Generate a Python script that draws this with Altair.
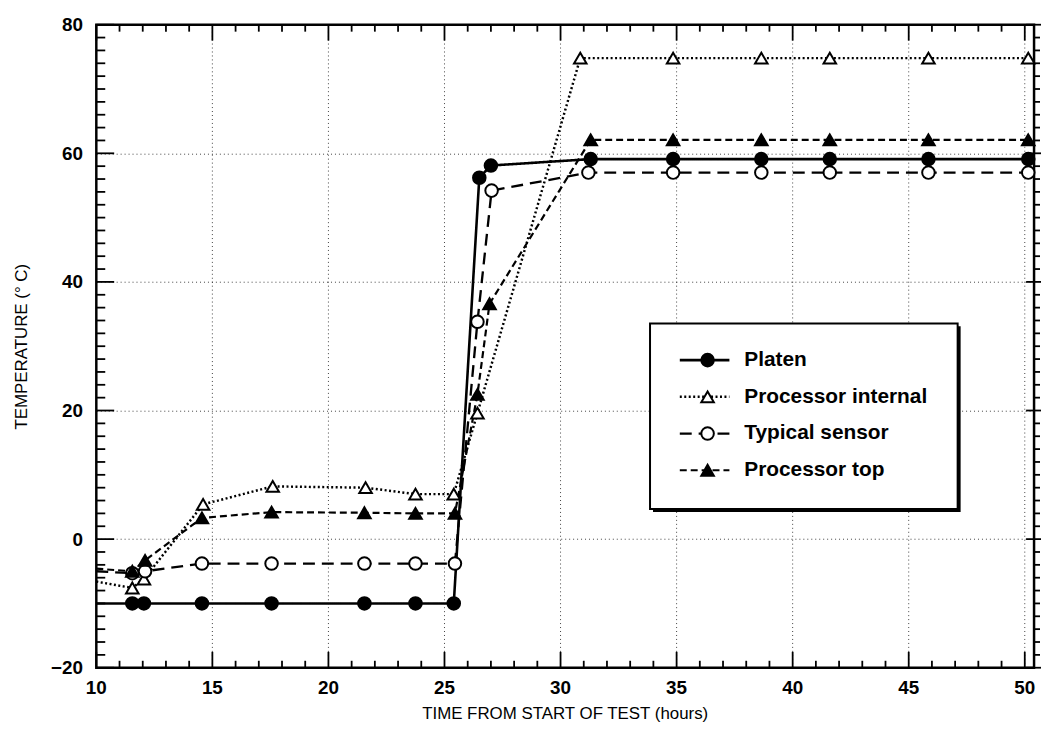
import altair as alt
import pandas as pd

SERIES = ["Platen", "Processor internal", "Typical sensor", "Processor top"]

PLATEN_TIME = [10.0, 11.55, 12.05, 14.55, 17.55, 21.55, 23.75, 25.4, 26.5, 27.0, 31.3, 34.85, 38.65, 41.6, 45.85, 50.15]
PLATEN_TEMP = [-10, -10, -10, -10, -10, -10, -10, -10, 56.2, 58.1, 59.1, 59.1, 59.1, 59.1, 59.1, 59.1]

INTERNAL_TIME = [10.0, 11.55, 12.05, 14.6, 17.6, 21.6, 23.75, 25.4, 26.42, 30.85, 34.85, 38.65, 41.6, 45.85, 50.15]
INTERNAL_TEMP = [-6.6, -7.6, -6.2, 5.4, 8.2, 8.0, 7.0, 7.0, 19.6, 74.8, 74.8, 74.8, 74.8, 74.8, 74.8]

SENSOR_TIME = [10.0, 11.55, 12.1, 14.55, 17.55, 21.55, 23.75, 25.45, 26.42, 27.03, 31.2, 34.85, 38.65, 41.6, 45.85, 50.15]
SENSOR_TEMP = [-5.0, -5.3, -5.0, -3.8, -3.8, -3.8, -3.8, -3.8, 33.8, 54.2, 57.0, 57.0, 57.0, 57.0, 57.0, 57.0]

TOP_TIME = [10.0, 11.55, 12.1, 14.55, 17.55, 21.55, 23.75, 25.45, 26.42, 26.94, 31.3, 34.85, 38.65, 41.6, 45.85, 50.15]
TOP_TEMP = [-4.6, -5.0, -3.3, 3.3, 4.2, 4.1, 4.0, 4.0, 22.5, 36.6, 62.1, 62.1, 62.1, 62.1, 62.1, 62.1]

X_LABELS = [10, 15, 20, 25, 30, 35, 40, 45, 50]
Y_LABELS = [-20, 0, 20, 40, 60, 80]
X_TICKS = list(range(10, 51))
Y_TICKS = list(range(-20, 81, 2))
X_TITLE = "TIME FROM START OF TEST (hours)"
Y_TITLE = "TEMPERATURE (° C)"

X_DOMAIN = [10, 50.4]
Y_DOMAIN = [-20, 80]
W, H = 945, 648
FONT = "Liberation Sans"

rows = []
for name, ts, vs in [
    ("Platen", PLATEN_TIME, PLATEN_TEMP),
    ("Processor internal", INTERNAL_TIME, INTERNAL_TEMP),
    ("Typical sensor", SENSOR_TIME, SENSOR_TEMP),
    ("Processor top", TOP_TIME, TOP_TEMP),
]:
    for i, (t, v) in enumerate(zip(ts, vs)):
        rows.append({"series": name, "time": t, "temp": v, "order": i, "marker": i > 0})
df = pd.DataFrame(rows)
leg = pd.DataFrame({"series": SERIES})
one = pd.DataFrame({"a": [0]})

px_x = W / (X_DOMAIN[1] - X_DOMAIN[0])
px_y = H / (Y_DOMAIN[1] - Y_DOMAIN[0])

# tick segments (inward on bottom/top/left, outward on right); lengths in pixels
segs = []
for t in X_TICKS:
    ln = (16 if t % 5 == 0 else 7) / px_y
    segs.append({"x": t, "x2": t, "y": Y_DOMAIN[0], "y2": Y_DOMAIN[0] + ln})
    segs.append({"x": t, "x2": t, "y": Y_DOMAIN[1], "y2": Y_DOMAIN[1] - ln})
for t in Y_TICKS:
    major = t % 20 == 0
    ln = (18 if major else 9) / px_x
    segs.append({"x": X_DOMAIN[0], "x2": X_DOMAIN[0] + ln, "y": t, "y2": t})
    if major:
        segs.append({"x": X_DOMAIN[1] - 8 / px_x, "x2": X_DOMAIN[1] + 7 / px_x, "y": t, "y2": t})
    else:
        segs.append({"x": X_DOMAIN[1], "x2": X_DOMAIN[1] + 6 / px_x, "y": t, "y2": t})
ticks_df = pd.DataFrame(segs)

# vertical grid lines
grid_df = pd.DataFrame({"x": X_LABELS[1:], "x2": X_LABELS[1:],
                        "y": [Y_DOMAIN[0]] * (len(X_LABELS) - 1),
                        "y2": [Y_DOMAIN[1]] * (len(X_LABELS) - 1)})

# x tick labels and title, placed below the frame (offsets in pixels)
xlab_df = pd.DataFrame({"x": X_LABELS, "lab": [str(v) for v in X_LABELS],
                        "y": [Y_DOMAIN[0] - 20 / px_y] * len(X_LABELS)})
xtitle_df = pd.DataFrame({"x": [(X_DOMAIN[0] + X_DOMAIN[1]) / 2], "lab": [X_TITLE],
                          "y": [Y_DOMAIN[0] - 47 / px_y]})

xscale = alt.Scale(domain=X_DOMAIN, nice=False, zero=False)
yscale = alt.Scale(domain=Y_DOMAIN, nice=False, zero=False)
dash_scale = alt.Scale(domain=SERIES, range=[[1, 0], [2, 2.5], [12, 7], [7, 4]])
width_scale = alt.Scale(domain=SERIES, range=[2.6, 2.2, 2.6, 2.6])
shape_scale = alt.Scale(domain=SERIES, range=["circle", "triangle-up", "circle", "triangle-up"])
fill_scale = alt.Scale(domain=SERIES, range=["black", "white", "white", "black"])

y_enc = alt.Y("temp:Q", scale=yscale, axis=alt.Axis(
    values=Y_LABELS, title=Y_TITLE, grid=True, ticks=False,
    domain=False, labelFont=FONT, labelFontSize=19, labelFontWeight="bold", labelColor="black",
    labelPadding=14, titleFont=FONT, titleFontSize=17, titleFontWeight="normal",
    titleColor="black", titlePadding=20, gridDash=[1, 3], gridColor="black",
    gridOpacity=0.75, gridWidth=1, format="d"))

grid = alt.Chart(grid_df).mark_rule(color="black", strokeWidth=1, strokeDash=[1, 3], opacity=0.75).encode(
    x=alt.X("x:Q", scale=xscale, axis=None),
    x2="x2:Q",
    y=alt.Y("y:Q", scale=yscale, axis=None),
    y2="y2:Q",
)

lines = alt.Chart(df).mark_line(color="black").encode(
    x=alt.X("time:Q", scale=xscale, axis=None),
    y=y_enc,
    strokeDash=alt.StrokeDash("series:N", scale=dash_scale, legend=None),
    strokeWidth=alt.StrokeWidth("series:N", scale=width_scale, legend=None),
    order="order:Q",
)

points = alt.Chart(df).transform_filter("datum.marker").mark_point(
    filled=True, stroke="black", strokeWidth=2, size=160, opacity=1
).encode(
    x=alt.X("time:Q", scale=xscale, axis=None),
    y=alt.Y("temp:Q", scale=yscale, axis=None),
    shape=alt.Shape("series:N", scale=shape_scale, legend=None),
    fill=alt.Fill("series:N", scale=fill_scale, legend=None),
)

tick_marks = alt.Chart(ticks_df).mark_rule(color="black", strokeWidth=1.8).encode(
    x=alt.X("x:Q", scale=xscale, axis=None),
    x2="x2:Q",
    y=alt.Y("y:Q", scale=yscale, axis=None),
    y2="y2:Q",
)

xlabels = alt.Chart(xlab_df).mark_text(font=FONT, fontSize=19, fontWeight="bold", color="black",
                                        align="center", baseline="middle").encode(
    x=alt.X("x:Q", scale=xscale, axis=None),
    y=alt.Y("y:Q", scale=yscale, axis=None),
    text="lab:N",
)
xtitle = alt.Chart(xtitle_df).mark_text(font=FONT, fontSize=17, color="black",
                                         align="center", baseline="middle").encode(
    x=alt.X("x:Q", scale=xscale, axis=None),
    y=alt.Y("y:Q", scale=yscale, axis=None),
    text="lab:N",
)

# legend
BX0, BX1, BY0, BY1 = 558, 868, 301, 488
shadow = alt.Chart(one).mark_rect(color="black").encode(
    x=alt.value(BX0 + 3), x2=alt.value(BX1 + 3), y=alt.value(BY0 + 3), y2=alt.value(BY1 + 3))
box = alt.Chart(one).mark_rect(fill="white", stroke="black", strokeWidth=2).encode(
    x=alt.value(BX0), x2=alt.value(BX1), y=alt.value(BY0), y2=alt.value(BY1))
leg_y = alt.Y("series:N", scale=alt.Scale(type="point", domain=SERIES, range=[338, 449], padding=0),
              axis=None)
leg_lines = alt.Chart(leg).mark_rule(color="black").encode(
    x=alt.value(588), x2=alt.value(638), y=leg_y,
    strokeDash=alt.StrokeDash("series:N", scale=dash_scale, legend=None),
    strokeWidth=alt.StrokeWidth("series:N", scale=width_scale, legend=None),
)
leg_pts = alt.Chart(leg).mark_point(filled=True, stroke="black", strokeWidth=2, size=160, opacity=1).encode(
    x=alt.value(616), y=leg_y,
    shape=alt.Shape("series:N", scale=shape_scale, legend=None),
    fill=alt.Fill("series:N", scale=fill_scale, legend=None),
)
leg_txt = alt.Chart(leg).mark_text(align="left", baseline="middle", font=FONT,
                                    fontSize=21, fontWeight="bold", color="black").encode(
    x=alt.value(653), y=leg_y, text="series:N")

chart = alt.layer(grid, lines, points, tick_marks, xlabels, xtitle, shadow, box,
                  leg_lines, leg_pts, leg_txt).resolve_scale(
    y="independent"
).properties(
    width=W, height=H,
    autosize=alt.AutoSizeParams(type="none"),
    padding={"left": 89, "top": 14, "right": 7, "bottom": 70},
    background="white",
).configure_view(stroke="black", strokeWidth=2.5)

chart.save("out.html", embed_options={"renderer": "svg", "actions": False})
